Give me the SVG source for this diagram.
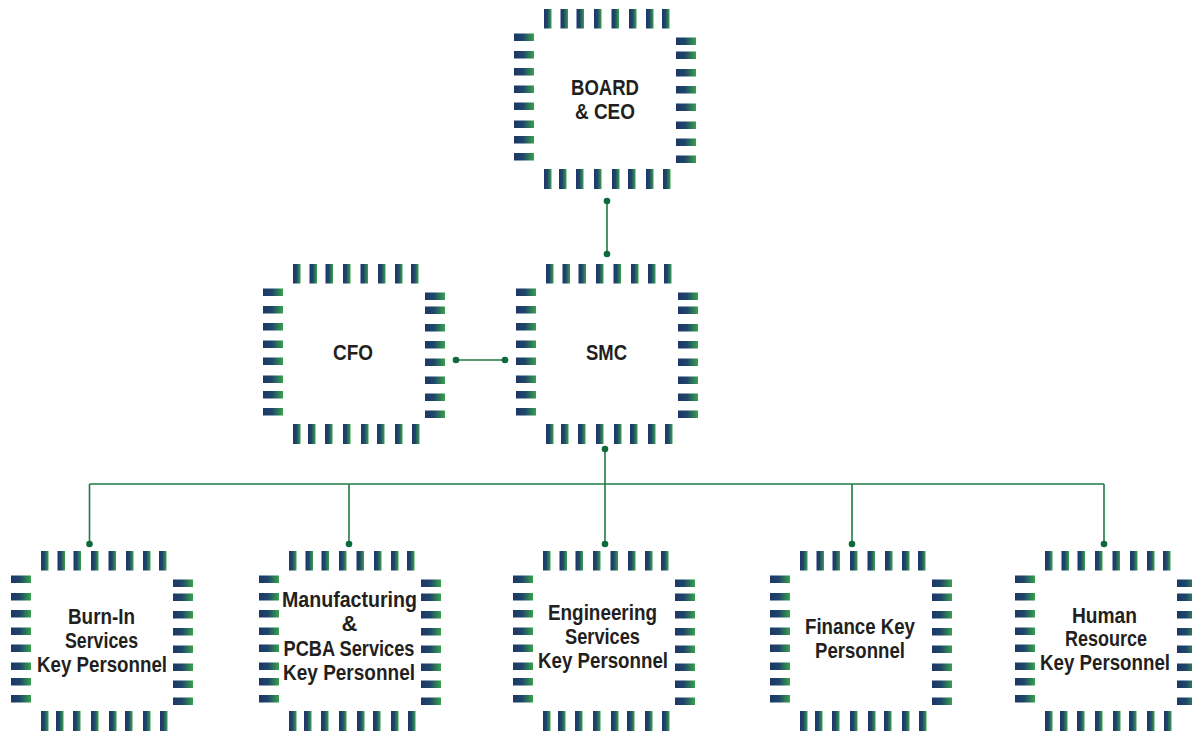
<svg xmlns="http://www.w3.org/2000/svg" xmlns:xlink="http://www.w3.org/1999/xlink" width="1192" height="731" viewBox="0 0 1192 731">
<style>
.t{font-family:"Liberation Sans",Arial,sans-serif;font-weight:bold;font-size:22px;fill:#231f20;text-anchor:middle}
.p{fill:url(#pg)}
.ln{stroke:#1f7a45;stroke-width:1.6;fill:none}
.dot{fill:#0d6b39}
</style>
<defs>
<linearGradient id="pg" x1="0" y1="0" x2="1" y2="0">
<stop offset="0" stop-color="#1c3768"/>
<stop offset="0.45" stop-color="#1f466a"/>
<stop offset="1" stop-color="#38a24b"/>
</linearGradient>
<g id="chip">
<rect class="p" x="30" y="0" width="7.5" height="19.5"/>
<rect class="p" x="46.5" y="0" width="7.5" height="19.5"/>
<rect class="p" x="62.5" y="0" width="7.5" height="19.5"/>
<rect class="p" x="80" y="0" width="7.5" height="19.5"/>
<rect class="p" x="97.5" y="0" width="7.5" height="19.5"/>
<rect class="p" x="115" y="0" width="7.5" height="19.5"/>
<rect class="p" x="132" y="0" width="7.5" height="19.5"/>
<rect class="p" x="148" y="0" width="7.5" height="19.5"/>
<rect class="p" x="30" y="160" width="7.5" height="20"/>
<rect class="p" x="45" y="160" width="7.5" height="20"/>
<rect class="p" x="62" y="160" width="7.5" height="20"/>
<rect class="p" x="80" y="160" width="7.5" height="20"/>
<rect class="p" x="98" y="160" width="7.5" height="20"/>
<rect class="p" x="114" y="160" width="7.5" height="20"/>
<rect class="p" x="132" y="160" width="7.5" height="20"/>
<rect class="p" x="149" y="160" width="7.5" height="20"/>
<rect class="p" x="0" y="24.5" width="20" height="7.5"/>
<rect class="p" x="0" y="42" width="20" height="7.5"/>
<rect class="p" x="0" y="59" width="20" height="7.5"/>
<rect class="p" x="0" y="76.5" width="20" height="7.5"/>
<rect class="p" x="0" y="93.5" width="20" height="7.5"/>
<rect class="p" x="0" y="111.5" width="20" height="7.5"/>
<rect class="p" x="0" y="127" width="20" height="7.5"/>
<rect class="p" x="0" y="144" width="20" height="7.5"/>
<rect class="p" x="162" y="28.5" width="20" height="7.5"/>
<rect class="p" x="162" y="42.5" width="20" height="7.5"/>
<rect class="p" x="162" y="60" width="20" height="7.5"/>
<rect class="p" x="162" y="77" width="20" height="7.5"/>
<rect class="p" x="162" y="94.5" width="20" height="7.5"/>
<rect class="p" x="162" y="112.5" width="20" height="7.5"/>
<rect class="p" x="162" y="129.5" width="20" height="7.5"/>
<rect class="p" x="162" y="146.5" width="20" height="7.5"/>
</g>
</defs>
<rect width="1192" height="731" fill="#ffffff"/>

<g id="connectors">
<line class="ln" x1="607" y1="201" x2="607" y2="254"/>
<line class="ln" x1="456" y1="360" x2="505" y2="360"/>
<polyline class="ln" points="605,449 605,484"/>
<line class="ln" x1="89.5" y1="484" x2="1104" y2="484"/>
<line class="ln" x1="89.5" y1="484" x2="89.5" y2="544"/>
<line class="ln" x1="349" y1="484" x2="349" y2="544"/>
<line class="ln" x1="605" y1="484" x2="605" y2="544"/>
<line class="ln" x1="852" y1="484" x2="852" y2="544"/>
<line class="ln" x1="1104" y1="484" x2="1104" y2="544"/>
<circle class="dot" cx="607" cy="201" r="3.3"/>
<circle class="dot" cx="607" cy="254" r="3.3"/>
<circle class="dot" cx="456" cy="360" r="3.3"/>
<circle class="dot" cx="505" cy="360" r="3.3"/>
<circle class="dot" cx="605" cy="449" r="3.3"/>
<circle class="dot" cx="89.5" cy="544" r="3.3"/>
<circle class="dot" cx="349" cy="544" r="3.3"/>
<circle class="dot" cx="605" cy="544" r="3.3"/>
<circle class="dot" cx="852" cy="544" r="3.3"/>
<circle class="dot" cx="1104" cy="544" r="3.3"/>
</g>

<g id="board-ceo">
<use xlink:href="#chip" x="514" y="9"/>
<text class="t" x="605" y="95" textLength="68" lengthAdjust="spacingAndGlyphs">BOARD</text>
<text class="t" x="605" y="119" textLength="60" lengthAdjust="spacingAndGlyphs">&amp; CEO</text>
</g>

<g id="cfo">
<use xlink:href="#chip" x="263" y="264"/>
<text class="t" x="353" y="360" textLength="40" lengthAdjust="spacingAndGlyphs">CFO</text>
</g>

<g id="smc">
<use xlink:href="#chip" x="516" y="264"/>
<text class="t" x="606.5" y="359.5" textLength="41" lengthAdjust="spacingAndGlyphs">SMC</text>
</g>

<g id="burn-in">
<use xlink:href="#chip" x="11" y="551"/>
<text class="t" x="101.5" y="623.5" textLength="67" lengthAdjust="spacingAndGlyphs">Burn-In</text>
<text class="t" x="101.5" y="648" textLength="73" lengthAdjust="spacingAndGlyphs">Services</text>
<text class="t" x="102" y="672" textLength="130" lengthAdjust="spacingAndGlyphs">Key Personnel</text>
</g>

<g id="manufacturing">
<use xlink:href="#chip" x="259" y="551"/>
<text class="t" x="349.5" y="606.5" textLength="135" lengthAdjust="spacingAndGlyphs">Manufacturing</text>
<text class="t" x="349.5" y="631">&amp;</text>
<text class="t" x="349" y="655.5" textLength="131" lengthAdjust="spacingAndGlyphs">PCBA Services</text>
<text class="t" x="349" y="680" textLength="132" lengthAdjust="spacingAndGlyphs">Key Personnel</text>
</g>

<g id="engineering">
<use xlink:href="#chip" x="513" y="551"/>
<text class="t" x="602.5" y="619.5" textLength="109" lengthAdjust="spacingAndGlyphs">Engineering</text>
<text class="t" x="602.5" y="643.5" textLength="75" lengthAdjust="spacingAndGlyphs">Services</text>
<text class="t" x="603" y="667.5" textLength="130" lengthAdjust="spacingAndGlyphs">Key Personnel</text>
</g>

<g id="finance">
<use xlink:href="#chip" x="770" y="551"/>
<text class="t" x="860" y="634" textLength="110" lengthAdjust="spacingAndGlyphs">Finance Key</text>
<text class="t" x="860" y="658" textLength="90" lengthAdjust="spacingAndGlyphs">Personnel</text>
</g>

<g id="human-resource">
<use xlink:href="#chip" x="1015" y="551"/>
<text class="t" x="1104.5" y="622.5" textLength="65" lengthAdjust="spacingAndGlyphs">Human</text>
<text class="t" x="1106" y="646" textLength="82" lengthAdjust="spacingAndGlyphs">Resource</text>
<text class="t" x="1105" y="670" textLength="130" lengthAdjust="spacingAndGlyphs">Key Personnel</text>
</g>
</svg>
